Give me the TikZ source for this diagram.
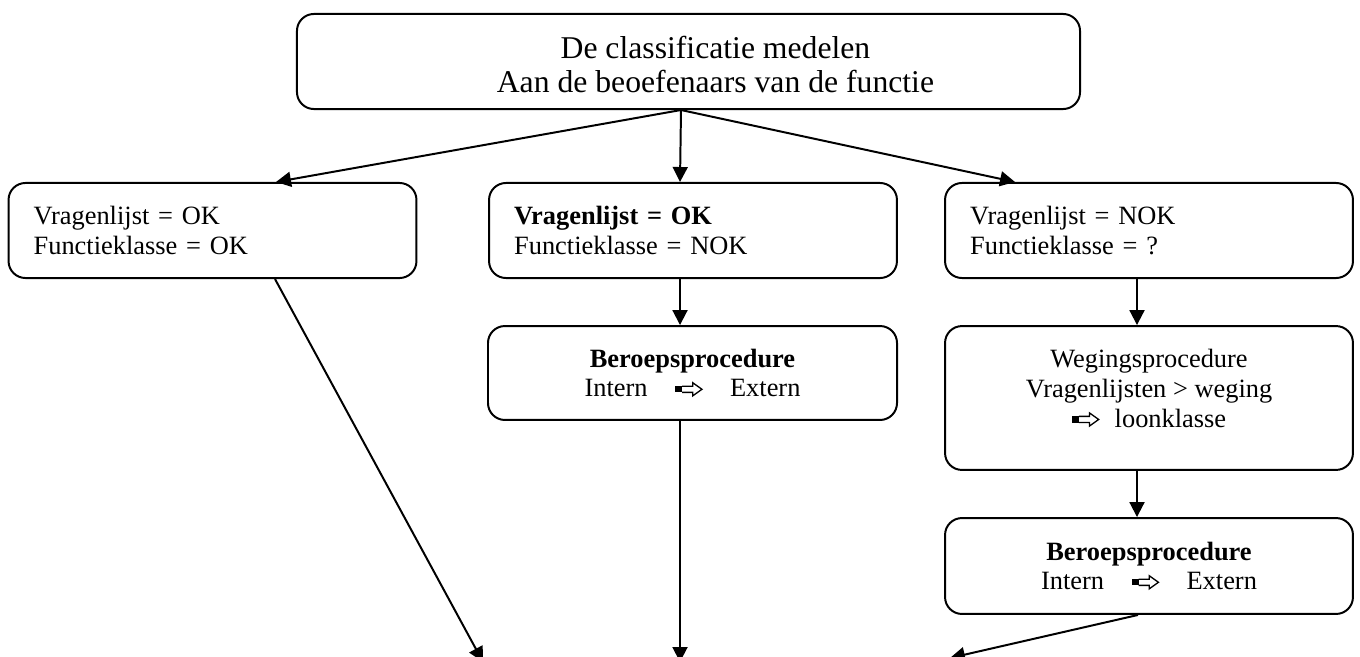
\documentclass[tikz,border=0pt]{standalone}
\usepackage{fontspec}
\setmainfont{Liberation Serif}
\usetikzlibrary{arrows.meta,calc}
\newsavebox\warrbox
\begin{document}
\sbox\warrbox{\begin{pgfpicture}%
\pgfsetbaseline{-3.5pt}%
\pgfpathrectangle{\pgfpoint{0pt}{-1.4pt}}{\pgfpoint{3.2pt}{2.8pt}}\pgfusepath{fill}%
\pgfsetlinewidth{0.6pt}\pgfsetmiterjoin
\pgfpathmoveto{\pgfpoint{3.2pt}{-1.4pt}}%
\pgfpathlineto{\pgfpoint{8pt}{-1.4pt}}%
\pgfpathlineto{\pgfpoint{8pt}{-3pt}}%
\pgfpathlineto{\pgfpoint{12.2pt}{0pt}}%
\pgfpathlineto{\pgfpoint{8pt}{3pt}}%
\pgfpathlineto{\pgfpoint{8pt}{1.4pt}}%
\pgfpathlineto{\pgfpoint{3.2pt}{1.4pt}}%
\pgfusepath{stroke}%
\end{pgfpicture}}%
\begin{tikzpicture}[x=0.4545pt,y=-0.4545pt,
  box/.style={draw, line width=0.9pt, rounded corners=7.7pt, inner ysep=0pt},
  smalltext/.style={font=\fontsize{12}{13.6}\selectfont},
  leftbox/.style={box, smalltext, align=left, inner xsep=11.4pt, text width=162.6pt, minimum height=43.2pt},
  centerbox/.style={box, smalltext, align=center, inner xsep=0pt},
  conn/.style={line width=0.9pt, -{Triangle[length=6.8pt,width=6.8pt]}}]
\clip (0,0) rectangle (1360,657);
\fill[white] (0,0) rectangle (1360,657);
\node[box, align=center, font=\fontsize{14.4}{15.4}\selectfont, minimum width=355.9pt, minimum height=43.2pt] (top) at (688.5,61.5)
  {\hspace*{24.5pt}\rule{0pt}{12.5pt}De classificatie medelen\\\hspace*{24.5pt}Aan de beoefenaars van de functie};
\node[leftbox] (A) at (212.5,230.5) {Vragenlijst = OK\\Functieklasse = OK};
\node[leftbox] (B) at (693,230.5) {\textbf{Vragenlijst = OK}\\Functieklasse = NOK};
\node[leftbox] (C) at (1149,230.5) {Vragenlijst = NOK\\Functieklasse = ?};
\node[centerbox, minimum width=185.9pt, minimum height=42.7pt] (D) at (692.5,373)
  {\textbf{Beroepsprocedure}\\Intern\hspace{12.5pt}\usebox\warrbox\hspace{12.5pt}Extern};
\node[centerbox, minimum width=185.4pt, minimum height=65.4pt] (E) at (1149,398)
  {Wegingsprocedure\\Vragenlijsten > weging\\\usebox\warrbox\hspace{7pt}loonklasse\rule[-9pt]{0pt}{1pt}};
\node[centerbox, minimum width=185.4pt, minimum height=43.6pt] (F) at (1149,566)
  {\textbf{Beroepsprocedure}\\Intern\hspace{12.5pt}\usebox\warrbox\hspace{12.5pt}Extern};
\coordinate (endA) at (483,662);
\coordinate (endD) at (680,662);
\coordinate (endF) at (950,658);
\draw[conn] ($(top.south)+(-7.5,0)$) -- ($(A.north)+(63.5,0)$);
\draw[conn] ($(top.south)+(-7.5,0)$) -- ($(B.north)+(-13,0)$);
\draw[conn] ($(top.south)+(-7.5,0)$) -- ($(C.north)+(-134,0)$);
\draw[conn] ($(B.south)+(-13,0)$) -- ($(D.north)+(-12.5,0)$);
\draw[conn] ($(C.south)+(-12,0)$) -- ($(E.north)+(-12,0)$);
\draw[conn] ($(E.south)+(-12,0)$) -- ($(F.north)+(-12,0)$);
\draw[conn] ($(A.south)+(62.5,0)$) -- (endA);
\draw[conn] ($(D.south)+(-12.5,0)$) -- (endD);
\draw[conn] ($(F.south)+(-11,0)$) -- (endF);
\end{tikzpicture}
\end{document}
